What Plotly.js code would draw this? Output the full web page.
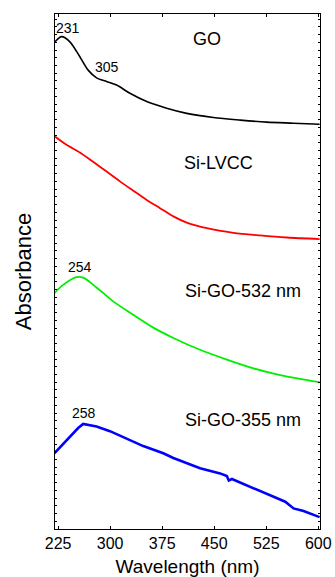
<!DOCTYPE html>
<html>
<head>
<meta charset="utf-8">
<script src="https://cdn.plot.ly/plotly-3.0.1.min.js"></script>
<style>html,body{margin:0;padding:0;background:#fff;}#chart{width:335px;height:577px;}</style>
</head>
<body>
<div id="chart"></div>
<script>
// Wavelength (nm) and absorbance (a.u., stacked/offset)
const goX = [220.5, 230, 242, 256.3, 268.3, 280.4, 294.9, 309.3, 328.5, 352.7, 381.5, 410.4, 448.8, 487.4, 525.9, 564.4, 602];
const goY = [9.46, 9.56, 9.46, 9.17, 8.91, 8.76, 8.69, 8.62, 8.46, 8.30, 8.17, 8.07, 7.99, 7.94, 7.90, 7.88, 7.86];

const lvccX = [220.5, 237.1, 256.3, 275.5, 294.9, 314.1, 333.3, 352.7, 371.9, 391.1, 410.4, 439.3, 477.7, 516.3, 554.8, 602];
const lvccY = [7.62, 7.46, 7.31, 7.13, 6.94, 6.75, 6.57, 6.39, 6.23, 6.07, 5.95, 5.84, 5.75, 5.70, 5.66, 5.63];

const g532X = [219.5, 232.2, 251.6, 261.1, 280.4, 304.4, 333.3, 362.2, 391.1, 429.6, 468.2, 506.6, 545.1, 602];
const g532Y = [4.58, 4.74, 4.89, 4.88, 4.69, 4.42, 4.16, 3.91, 3.71, 3.48, 3.29, 3.12, 2.99, 2.85];

const g355X = [219.5, 237.1, 250.6, 253.9, 261.1, 280.4, 299.7, 323.8, 347.7, 376.6, 391.1, 429.6, 458.5, 468.2, 471, 475.5, 506.6, 535.5, 552.4, 564.4, 578.8, 602];
const g355Y = [1.47, 1.73, 1.92, 1.96, 2.04, 1.99, 1.90, 1.75, 1.61, 1.47, 1.38, 1.18, 1.08, 1.03, 0.94, 0.97, 0.79, 0.63, 0.53, 0.40, 0.35, 0.23];

const seriesNames = ["GO", "Si-LVCC", "Si-GO-532 nm", "Si-GO-355 nm"];
const seriesColors = ["#000000", "#ff0000", "#00ee00", "#0000ff"];

// Labels
const labelText = ["231", "305", "GO", "Si-LVCC", "254", "Si-GO-532 nm", "258", "Si-GO-355 nm"];
const labelX = [239, 295, 439, 456, 256, 492, 262, 492];
const labelY = [9.73, 8.98, 9.51, 7.10, 5.09, 4.63, 2.25, 2.12];
const labelSize = [14, 14, 18, 18, 14, 18, 14, 18];

const xTicks = [225, 300, 375, 450, 525, 600];

const font = "Liberation Sans, Arial, sans-serif";

const traces = [
  {x: goX, y: goY, color: seriesColors[0], w: 1.6, shape: "spline"},
  {x: lvccX, y: lvccY, color: seriesColors[1], w: 1.8, shape: "spline"},
  {x: g532X, y: g532Y, color: seriesColors[2], w: 1.8, shape: "spline"},
  {x: g355X, y: g355Y, color: seriesColors[3], w: 2.6, shape: "linear"}
].map((t, i) => ({
  type: "scatter", mode: "lines", name: seriesNames[i],
  x: t.x, y: t.y,
  line: {color: t.color, width: t.w, shape: t.shape, smoothing: 0.8}
}));

const annotations = labelText.map((t, i) => ({
  text: t, x: labelX[i], y: labelY[i], xref: "x", yref: "y",
  showarrow: false, font: {family: font, size: labelSize[i], color: "#000"},
  xanchor: "center", yanchor: "middle"
}));

const layout = {
  width: 335, height: 577,
  margin: {l: 55, r: 15, t: 14, b: 48},
  paper_bgcolor: "#fff", plot_bgcolor: "#fff",
  showlegend: false,
  font: {family: font, color: "#000"},
  xaxis: {
    range: [220.5, 602.5],
    tickvals: xTicks, ticktext: xTicks.map(String),
    ticks: "inside", ticklen: 3, tickwidth: 1, tickcolor: "#000",
    showline: true, linecolor: "#000", linewidth: 1, mirror: "ticks",
    showgrid: false, zeroline: false,
    tickfont: {family: font, size: 16, color: "#000"},
    title: {text: "Wavelength (nm)", font: {family: font, size: 19, color: "#000"}, standoff: 8}
  },
  yaxis: {
    range: [0, 10],
    tick0: 0, dtick: 0.15,
    ticks: "inside", ticklen: 2, tickwidth: 1, tickcolor: "#000",
    showticklabels: false,
    showline: true, linecolor: "#000", linewidth: 1, mirror: "ticks",
    showgrid: false, zeroline: false,
    title: {text: "Absorbance", font: {family: font, size: 22, color: "#000"}, standoff: 16}
  },
  annotations: annotations
};

Plotly.newPlot("chart", traces, layout, {displayModeBar: false, staticPlot: true});
</script>
</body>
</html>
